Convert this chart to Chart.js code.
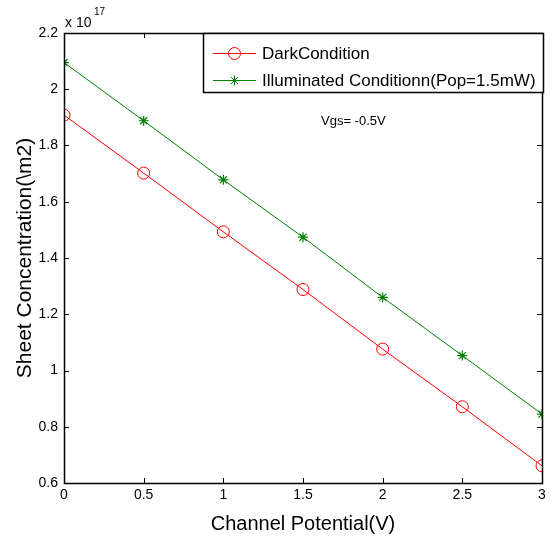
<!DOCTYPE html>
<html>
<head>
  <script src="https://cdn.jsdelivr.net/npm/chart.js"></script>
  <style>
    body { margin: 0; background: #fff; }
    #wrap { width: 552px; height: 540px; }
  </style>
</head>
<body>
  <div id="wrap"><canvas id="myChart"></canvas></div>
  <script>
  // channel potential (V) and sheet concentration in units of 1e17
  var potential = [0, 0.5, 1, 1.5, 2, 2.5, 3];
  var darkCond = [1.908, 1.702, 1.493, 1.288, 1.076, 0.871, 0.661];
  var illumCond = [2.095, 1.888, 1.678, 1.474, 1.260, 1.053, 0.845];
  var seriesNames = ['DarkCondition', 'Illuminated Conditionn(Pop=1.5mW)'];
  var yTicks = [0.6, 0.8, 1, 1.2, 1.4, 1.6, 1.8, 2, 2.2];
  var xTicks = [0, 0.5, 1, 1.5, 2, 2.5, 3];

  var FONT = "'Liberation Sans', Arial, Helvetica, sans-serif";

  function toPoints(ys) {
    return potential.map(function(x, i) { return {x: x, y: ys[i]}; });
  }

  // matlab style box, inward ticks, legend and notes
  var matlabBox = {
    id: 'matlabBox',
    afterDraw: function(chart) {
      var ctx = chart.ctx;
      var a = chart.chartArea;
      var xs = chart.scales.x, ys = chart.scales.y;
      ctx.save();
      ctx.strokeStyle = '#000';
      ctx.lineWidth = 1.5;
      ctx.strokeRect(Math.round(a.left) + 0.5, Math.round(a.top) + 0.5,
                     Math.round(a.right - a.left), Math.round(a.bottom - a.top));
      ctx.lineWidth = 1;
      ctx.beginPath();
      xTicks.forEach(function(v) {
        var px = Math.round(xs.getPixelForValue(v)) + 0.5;
        ctx.moveTo(px, a.bottom); ctx.lineTo(px, a.bottom - 5);
        ctx.moveTo(px, a.top); ctx.lineTo(px, a.top + 5);
      });
      yTicks.forEach(function(v) {
        var py = Math.round(ys.getPixelForValue(v)) + 0.5;
        ctx.moveTo(a.left, py); ctx.lineTo(a.left + 5, py);
        ctx.moveTo(a.right, py); ctx.lineTo(a.right - 5, py);
      });
      ctx.stroke();

      // exponent label
      ctx.fillStyle = '#000';
      ctx.textBaseline = 'middle';
      ctx.textAlign = 'left';
      ctx.font = '14px ' + FONT;
      ctx.fillText('x 10', 65, 23);
      ctx.font = '10px ' + FONT;
      ctx.fillText('17', 94, 12);

      // annotation
      ctx.font = '13px ' + FONT;
      ctx.fillText('Vgs= -0.5V', 321, 121);

      // legend
      var lx = 203, ly = 33, lw = 340, lh = 59;
      ctx.fillStyle = '#fff';
      ctx.fillRect(lx, ly, lw, lh);
      ctx.strokeStyle = '#000';
      ctx.lineWidth = 1.5;
      ctx.strokeRect(lx + 0.5, ly + 0.5, lw, lh);
      var rows = [53, 80];
      chart.data.datasets.forEach(function(ds, i) {
        var y = rows[i];
        ctx.strokeStyle = ds.borderColor;
        ctx.lineWidth = 1;
        ctx.beginPath();
        ctx.moveTo(213, y + 0.5); ctx.lineTo(256, y + 0.5);
        ctx.stroke();
        ctx.fillStyle = 'rgba(0,0,0,0)';
        Chart.helpers.drawPoint(ctx, {
          pointStyle: ds.pointStyle, radius: ds.pointRadius,
          rotation: 0, borderWidth: 1
        }, 234.5, y + 0.5);
        ctx.fillStyle = '#000';
        ctx.font = '17px ' + FONT;
        ctx.textAlign = 'left';
        ctx.textBaseline = 'middle';
        ctx.fillText(ds.label, 262, y + 1);
      });
      ctx.restore();
    }
  };

  var ctx = document.getElementById('myChart').getContext('2d');
  var myChart = new Chart(ctx, {
    type: 'line',
    data: {
      datasets: [{
        label: seriesNames[0],
        data: toPoints(darkCond),
        borderColor: '#ff0000',
        backgroundColor: 'rgba(0,0,0,0)',
        borderWidth: 1,
        pointStyle: 'circle',
        pointRadius: 6,
        pointBorderWidth: 1,
        pointBorderColor: '#ff0000',
        pointBackgroundColor: 'rgba(0,0,0,0)',
        tension: 0
      }, {
        label: seriesNames[1],
        data: toPoints(illumCond),
        borderColor: '#008000',
        backgroundColor: 'rgba(0,0,0,0)',
        borderWidth: 1,
        pointStyle: 'star',
        pointRadius: 5,
        pointBorderWidth: 1.2,
        pointBorderColor: '#008000',
        pointBackgroundColor: 'rgba(0,0,0,0)',
        tension: 0
      }]
    },
    options: {
      responsive: true,
      maintainAspectRatio: false,
      animation: false,
      layout: { padding: { left: 0, top: 33, right: 10, bottom: 0 } },
      plugins: {
        legend: { display: false },
        tooltip: { enabled: false }
      },
      scales: {
        x: {
          type: 'linear',
          min: 0, max: 3,
          afterBuildTicks: function(s) { s.ticks = xTicks.map(function(v) { return {value: v}; }); },
          afterFit: function(s) { s.height = 57; },
          grid: { display: false, drawTicks: false },
          border: { display: false },
          ticks: {
            color: '#000', padding: 4,
            font: { family: FONT, size: 14 },
            callback: function(v) { return String(v); }
          },
          title: {
            display: true, text: 'Channel Potential(V)', color: '#000',
            font: { family: FONT, size: 20 },
            padding: { top: 0, bottom: 4 }
          }
        },
        y: {
          type: 'linear',
          min: 0.6, max: 2.2,
          afterBuildTicks: function(s) { s.ticks = yTicks.map(function(v) { return {value: v}; }); },
          afterFit: function(s) { s.width = 64; },
          grid: { display: false, drawTicks: false },
          border: { display: false },
          ticks: {
            color: '#000', padding: 6,
            font: { family: FONT, size: 14 },
            callback: function(v) { return String(parseFloat(v.toFixed(1))); }
          },
          title: {
            display: true, text: 'Sheet Concentration(\\m2)', color: '#000',
            font: { family: FONT, size: 21 },
            padding: { top: 13, bottom: 0 }
          }
        }
      }
    },
    plugins: [matlabBox]
  });
  </script>
</body>
</html>
